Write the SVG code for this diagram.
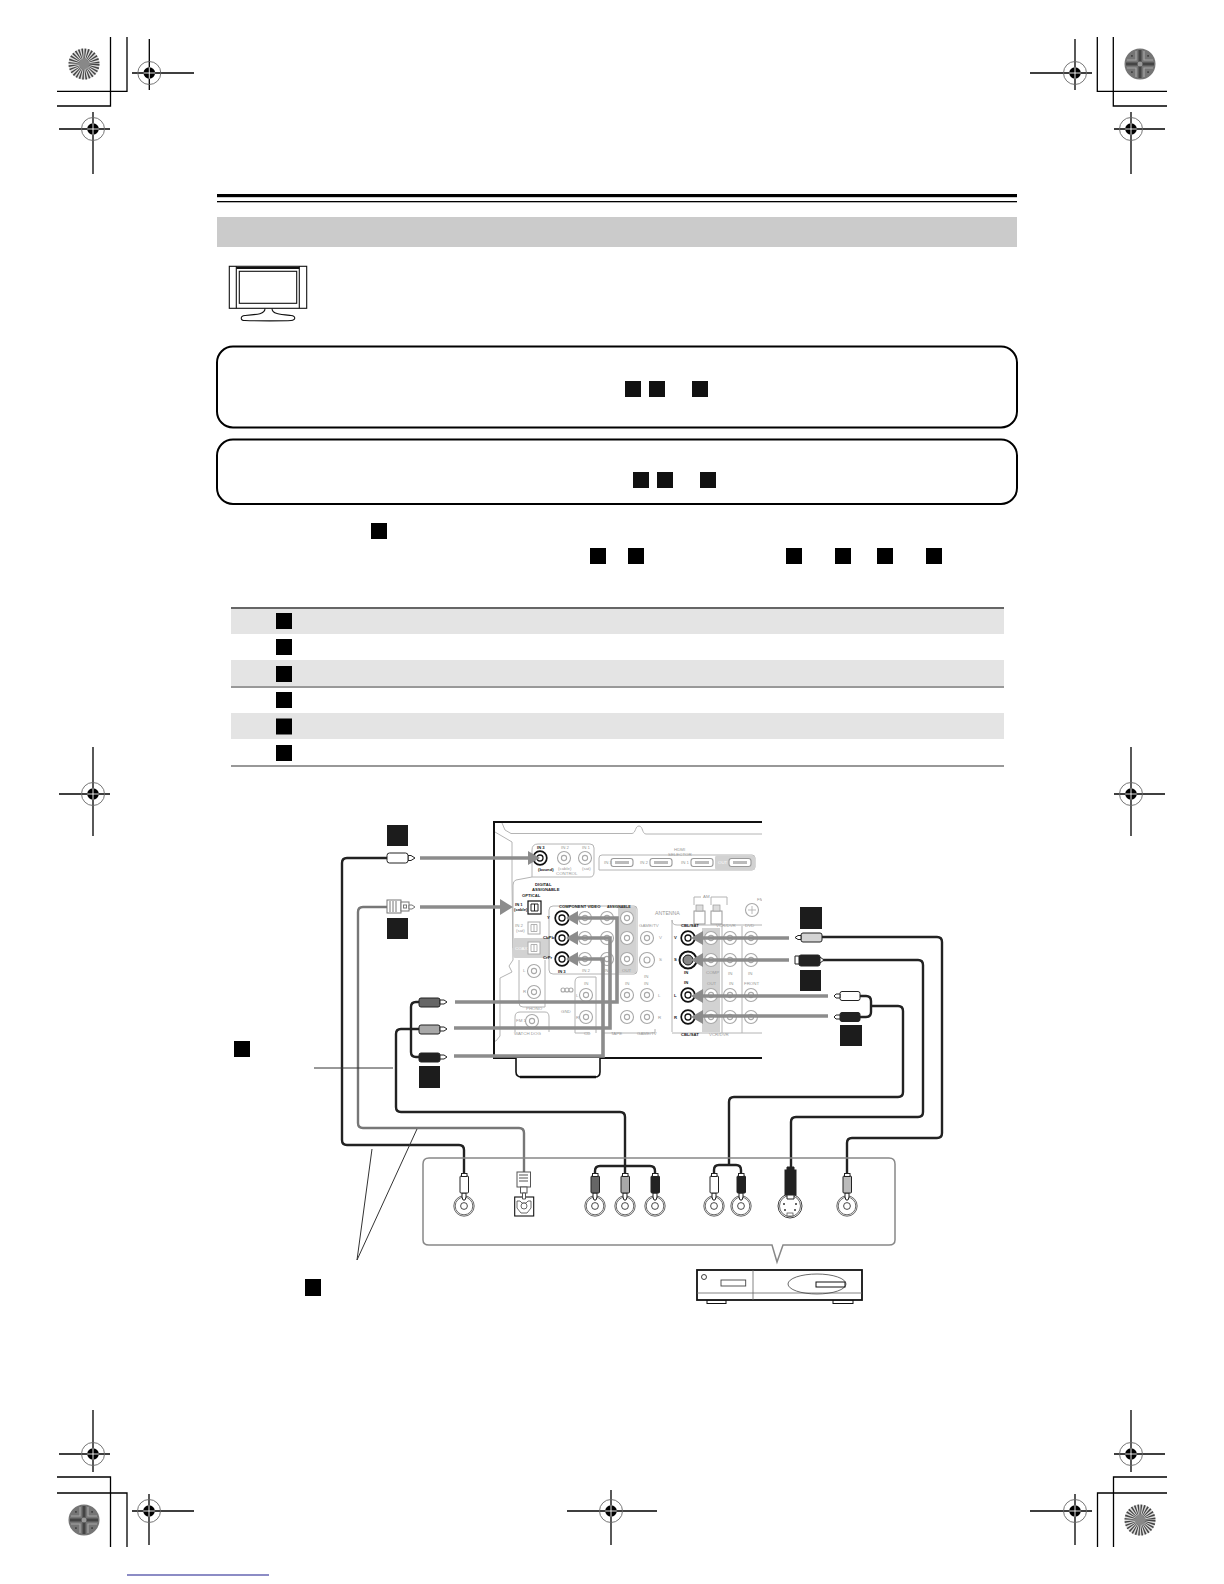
<svg xmlns="http://www.w3.org/2000/svg" xmlns:xlink="http://www.w3.org/1999/xlink" width="1224" height="1584" viewBox="0 0 1224 1584">
<style>
.k{stroke:#000;fill:none;stroke-width:1.3}
.sq{fill:#111}
.cb{fill:none;stroke:#222;stroke-width:2.4}
.cg{fill:none;stroke:#777;stroke-width:2.4}
.ga{fill:none;stroke:#8c8c8c;stroke-width:3.6}
.gh{fill:#8c8c8c}
.lt{fill:none;stroke:#b4b4b4;stroke-width:1}
.jl{fill:#fff;stroke:#a8a8a8;stroke-width:1.1}
.t{font-family:"Liberation Sans",Arial,sans-serif;font-size:4.4px;fill:#999}
.b{font-family:"Liberation Sans",Arial,sans-serif;font-size:4.2px;fill:#222;font-weight:bold}
.gf{fill:#d2d2d2}
</style>
<defs>
<g id="reg"><circle r="11.5" fill="none" stroke="#666" stroke-width="0.9"/><circle r="5.8" fill="#000"/><path d="M-5.8 0H5.8M0-5.8V5.8" stroke="#fff" stroke-width="0.9"/></g>
<g id="burst"><circle r="15.500" fill="#ddd"/><circle r="8" fill="none" stroke="#444" stroke-width="15" stroke-dasharray="0.9 0.9"/><circle r="5" fill="#888"/></g>
<g id="pat"><circle r="15.500" fill="#757575"/><path d="M-14 0H14M0-14V14" stroke="#444" stroke-width="3"/><path d="M-13-4H-4V-13M13-4H4V-13M-13 4H-4V13M13 4H4V13" stroke="#a4a4a4" stroke-width="1.200" fill="none"/><path d="M-9-8H-8V-9M9-8H8V-9M-9 8H-8V9M9 8H8V9" stroke="#444" stroke-width="1.600" fill="none"/><circle r="2.500" fill="#999"/></g>
<g id="jack"><circle r="10.200" fill="#fff" stroke="#444" stroke-width="0.8"/><circle r="8.800" fill="none" stroke="#444" stroke-width="0.8"/><circle r="3.400" fill="#fff" stroke="#333" stroke-width="0.9"/></g>
<g id="jl"><circle r="6.500" class="jl"/><circle r="2.600" class="jl"/></g>
<g id="jh"><circle r="6.800" fill="#fff" stroke="#111" stroke-width="1.700"/><circle r="3" fill="#fff" stroke="#111" stroke-width="1.300"/></g>
<g id="hd"><rect x="-11" y="-4" width="22" height="8" rx="2.500" fill="#fff" stroke="#999" stroke-width="1.100"/><rect x="-7" y="-1.500" width="14" height="3" fill="#bbb"/></g>
<g id="opt"><rect x="-6" y="-6" width="12" height="12" fill="#fff" stroke="#aaa" stroke-width="1"/><path d="M-3-3.500H3V3.500H-3ZM0-3.500V3.500" fill="none" stroke="#aaa" stroke-width="0.9"/></g>
<clipPath id="rc"><rect x="490" y="815" width="272" height="250"/></clipPath>
</defs>

<g id="registration-marks">
<path class="k" d="M110.500 37V106H57M127 37V91.300H57M1097.300 37V91.300H1167M1113.300 37V106H1167M57 1477H110.500V1547M57 1493H127V1547M1167 1477H1113.500V1547M1167 1493H1097.500V1547"/>
<path class="k" d="M132 73H194M149.300 39V90M59 129H110M93 112V174M1030 73H1092M1075 39V90M1114 129H1165M1131 112V174M59 794H110M93 747V836M1114 794H1165M1131 747V836M59 1454H110M93 1410V1472M132 1511H194M149 1494V1545M1114 1454H1165M1131 1410V1472M1030 1511H1092M1075 1494V1545M567 1511H657M611 1490V1545"/>
<use xlink:href="#reg" x="149.300" y="73"/><use xlink:href="#reg" x="93" y="129"/><use xlink:href="#reg" x="1075" y="73"/><use xlink:href="#reg" x="1131" y="129"/><use xlink:href="#reg" x="93" y="794"/><use xlink:href="#reg" x="1131" y="794"/><use xlink:href="#reg" x="93" y="1454"/><use xlink:href="#reg" x="149" y="1511"/><use xlink:href="#reg" x="1131" y="1454"/><use xlink:href="#reg" x="1075" y="1511"/><use xlink:href="#reg" x="611" y="1511"/>
<use xlink:href="#burst" x="84" y="64"/><use xlink:href="#pat" x="1140" y="64"/><use xlink:href="#pat" x="84" y="1520"/><use xlink:href="#burst" x="1140" y="1520"/>
<path d="M127 1575H269" stroke="#1a1a8c" stroke-width="1.200"/>
</g>

<g id="header">
<rect x="217" y="194" width="800" height="3.200" fill="#000"/>
<rect x="217" y="201" width="800" height="1.300" fill="#000"/>
<rect x="217" y="217" width="800" height="30" fill="#cbcbcb"/>
</g>

<g id="tv-icon" fill="none" stroke="#111" stroke-width="1.100">
<rect x="229.300" y="266.300" width="77.400" height="42"/>
<path d="M236.300 266.300V308.300M299.300 266.300V308.300"/>
<path d="M236.300 268H299.300" stroke-width="2"/>
<rect x="239.300" y="271.300" width="57.400" height="32"/>
<path d="M265 308.500C265 314 258 314.500 245 315.500C240 316 240 320.500 245 320.500C255 321 285 321 291 320.500C296 320 296 316 291 315.500C280 314.500 272 314 272 308.500"/>
</g>

<g id="note-box-1"><rect x="217" y="346.500" width="800" height="81" rx="16" fill="#fff" stroke="#000" stroke-width="2"/>
<rect class="sq" x="625" y="381" width="16" height="16"/><rect class="sq" x="649" y="381" width="16" height="16"/><rect class="sq" x="692" y="381" width="16" height="16"/></g>
<g id="note-box-2"><rect x="217" y="439.500" width="800" height="64.500" rx="16" fill="#fff" stroke="#000" stroke-width="2"/>
<rect class="sq" x="633" y="472" width="16" height="16"/><rect class="sq" x="657" y="472" width="16" height="16"/><rect class="sq" x="700" y="472" width="16" height="16"/></g>

<g id="inline-squares" fill="#000">
<rect x="371" y="523" width="16" height="16"/><rect x="590" y="548" width="16" height="16"/><rect x="628" y="548" width="16" height="16"/><rect x="786" y="548" width="16" height="16"/><rect x="835" y="548" width="16" height="16"/><rect x="877" y="548" width="16" height="16"/><rect x="926" y="548" width="16" height="16"/>
</g>

<g id="table">
<rect x="231" y="609" width="773" height="25" fill="#e4e4e4"/>
<rect x="231" y="660" width="773" height="26" fill="#e4e4e4"/>
<rect x="231" y="713" width="773" height="26" fill="#e4e4e4"/>
<path d="M231 608H1004" stroke="#666" stroke-width="1.800"/>
<path d="M231 687H1004" stroke="#333" stroke-width="1"/>
<path d="M231 766H1004" stroke="#333" stroke-width="1.200"/>
<g fill="#000"><rect x="276" y="613" width="16" height="16"/><rect x="276" y="639" width="16" height="16"/><rect x="276" y="666" width="16" height="16"/><rect x="276" y="692" width="16" height="16"/><rect x="276" y="718.500" width="16" height="16"/><rect x="276" y="745" width="16" height="16"/></g>
</g>

<g id="receiver">
<g clip-path="url(#rc)">
<path class="lt" d="M502 823L505 830L511 833.500H632C636 833 635 826 639 826C643 826 642 834 646 834H765"/>
<path class="lt" d="M495 832L512 842V881L513 960L509 966L512 972L500 978V1036L496 1041H494"/>
<path class="lt" d="M532 877V850Q532 844 538 844H590Q594 844 594 848V872Q594 877 590 877H532L516 880Q513 881 513 885V948"/>
<path class="lt" d="M599 870V858Q599 855 602 855H752Q755 855 755 858V867Q755 870 752 870Z"/>
<rect x="715" y="855.500" width="40" height="14.500" rx="2" class="gf"/>
<use xlink:href="#hd" x="622" y="862.500"/><use xlink:href="#hd" x="661" y="862.500"/><use xlink:href="#hd" x="702" y="862.500"/><use xlink:href="#hd" x="740" y="862.500"/>
<use xlink:href="#jl" x="564" y="858"/><use xlink:href="#jl" x="585" y="858"/>
<rect x="513" y="938" width="37" height="20" rx="2" class="gf"/>
<use xlink:href="#opt" x="534" y="928"/><use xlink:href="#opt" x="534" y="948"/>
<rect x="528" y="901" width="13" height="13" fill="#fff" stroke="#111" stroke-width="1.200"/><path d="M531 904H538V911H531ZM534.500 904V911" fill="none" stroke="#111" stroke-width="0.9"/>
<path class="lt" d="M519 960V1003Q519 1007 523 1007H545V960M553 906H634Q637 906 637 909V971Q637 974 634 974H553Q549 974 549 970V910Q549 906 553 906"/>
<rect x="618" y="907" width="18" height="66" class="gf"/>
<use xlink:href="#jl" x="585" y="918"/><use xlink:href="#jl" x="607" y="918"/><use xlink:href="#jl" x="627" y="918"/>
<use xlink:href="#jl" x="585" y="938"/><use xlink:href="#jl" x="607" y="938"/><use xlink:href="#jl" x="627" y="938"/>
<use xlink:href="#jl" x="585" y="959"/><use xlink:href="#jl" x="607" y="959"/><use xlink:href="#jl" x="627" y="959"/>
<use xlink:href="#jl" x="647" y="938"/>
<circle cx="647" cy="960" r="7.500" class="jl"/><circle cx="647" cy="960" r="3" class="jl"/>
<use xlink:href="#jl" x="647" y="995"/><use xlink:href="#jl" x="647" y="1017"/><use xlink:href="#jl" x="627" y="995"/><use xlink:href="#jl" x="627" y="1017"/><use xlink:href="#jl" x="586" y="995"/><use xlink:href="#jl" x="586" y="1017"/>
<use xlink:href="#jl" x="534" y="971"/><use xlink:href="#jl" x="534" y="992"/><use xlink:href="#jl" x="532" y="1021"/>
<circle cx="563" cy="990" r="2" class="jl"/><circle cx="567" cy="990" r="2" class="jl"/><circle cx="571" cy="990" r="2" class="jl"/>
<path class="lt" d="M515 1032V1017Q515 1012 520 1012H545Q549 1012 549 1017V1032"/>
<path class="lt" d="M575 1033V982Q575 977 580 977H596V1033M602 1033H655V1029M575 1033H590"/>
<path class="lt" d="M672 920Q672 925 677 925H762M672 920V1032M672 1033H762"/>
<rect x="702" y="928" width="18" height="104" class="gf"/>
<use xlink:href="#jl" x="711" y="938"/><use xlink:href="#jl" x="711" y="960"/><use xlink:href="#jl" x="711" y="995"/><use xlink:href="#jl" x="711" y="1017"/>
<use xlink:href="#jl" x="730" y="938"/><use xlink:href="#jl" x="730" y="960"/><use xlink:href="#jl" x="730" y="995"/><use xlink:href="#jl" x="730" y="1017"/>
<use xlink:href="#jl" x="751" y="938"/><use xlink:href="#jl" x="751" y="960"/><use xlink:href="#jl" x="751" y="995"/><use xlink:href="#jl" x="751" y="1017"/>
<path class="lt" d="M722 926V1033M742 926V1033"/>
<rect x="694" y="911" width="11" height="13" fill="#fff" stroke="#999"/><rect x="711" y="911" width="11" height="13" fill="#fff" stroke="#999"/>
<rect x="696" y="905" width="7" height="6" fill="#ddd" stroke="#999" stroke-width="0.7"/><rect x="713" y="905" width="7" height="6" fill="#ddd" stroke="#999" stroke-width="0.7"/>
<path class="lt" d="M694 905V897H701M711 905V897H727V905"/>
<circle cx="752" cy="910" r="6.500" class="jl"/><path d="M748 910H756M752 906V914" stroke="#aaa" stroke-width="0.8"/>
<text class="b" x="537" y="849">IN 3</text><text class="t" x="561" y="849">IN 2</text><text class="t" x="582" y="849">IN 1</text>
<text class="b" x="538" y="871">(bound)</text><text class="t" x="558" y="870">(cable)</text><text class="t" x="582" y="870">(sat)</text><text class="t" x="556" y="875">CONTROL</text>
<text class="t" x="674" y="851">HDMI</text><text class="t" x="668" y="855.500">SELECTOR</text>
<text class="t" x="604" y="864">IN 3</text><text class="t" x="640" y="864">IN 2</text><text class="t" x="681" y="864">IN 1</text><text class="t" x="718" y="864" style="fill:#fff">OUT</text>
<text class="b" x="535" y="886">DIGITAL</text><text class="b" x="532" y="890.500">ASSIGNABLE</text><text class="b" x="522" y="897">OPTICAL</text>
<text class="b" x="515" y="906">IN 1</text><text class="b" x="514" y="910.500">(cable)</text><text class="t" x="515" y="927">IN 2</text><text class="t" x="516" y="932">(sat)</text><text class="t" x="515" y="950" style="fill:#fff">COAX</text>
<text class="b" x="559" y="907.500">COMPONENT VIDEO</text><text class="b" x="607" y="907.500" style="font-size:3.600px">ASSIGNABLE</text>
<text class="b" x="547" y="919">Y</text><text class="b" x="543" y="939">CbPb</text><text class="b" x="543" y="959">CrPr</text><text class="b" x="558" y="973">IN 3</text><text class="t" x="582" y="972">IN 2</text><text class="t" x="604" y="972">IN 1</text><text class="t" x="622" y="972">OUT</text>
<text class="t" x="655" y="915" style="font-size:5.200px">ANTENNA</text><text class="t" x="703" y="898">AM</text><text class="t" x="757" y="901">FM</text>
<text class="t" x="639" y="927">GAME/TV</text><text class="t" x="659" y="939">V</text><text class="t" x="659" y="961">S</text><text class="t" x="644" y="978">IN</text><text class="t" x="658" y="997">L</text><text class="t" x="658" y="1019">R</text>
<text class="t" x="625" y="985">IN</text><text class="t" x="644" y="985">IN</text><text class="t" x="584" y="985">IN</text><text class="t" x="576" y="997">L</text><text class="t" x="576" y="1019">R</text>
<text class="t" x="523" y="972">L</text><text class="t" x="523" y="993">R</text><text class="t" x="526" y="1010">PHONO</text><text class="t" x="516" y="1022">FM 1</text><text class="t" x="514" y="1035">WATCH DOG</text><text class="t" x="561" y="1013">GND</text>
<text class="t" x="584" y="1035">CD</text><text class="t" x="611" y="1035">TAPE</text><text class="t" x="637" y="1035">GAME/TV</text>
<text class="b" x="681" y="927">CBL/SAT</text><text class="t" x="716" y="927">VCR/DVR</text><text class="t" x="745" y="927">DVD</text>
<text class="b" x="674" y="939">V</text><text class="b" x="674" y="961">S</text><text class="b" x="684" y="974">IN</text><text class="b" x="684" y="984">IN</text><text class="b" x="674" y="997">L</text><text class="b" x="674" y="1019">R</text>
<text class="t" x="706" y="974">COMP</text><text class="t" x="707" y="985">OUT</text><text class="t" x="728" y="975">IN</text><text class="t" x="729" y="985">IN</text><text class="t" x="748" y="975">IN</text><text class="t" x="744" y="985">FRONT</text>
<text class="b" x="681" y="1036">CBL/SAT</text><text class="t" x="709" y="1036">VCR/DVR</text>
</g>
<path d="M762 822H494V1058H762" fill="none" stroke="#111" stroke-width="2"/>
<path d="M516 1058V1072Q516 1077 522 1077H595Q600 1077 600 1072V1058" fill="#fff" stroke="#111" stroke-width="1.600"/>
<path d="M520 1077H596" stroke="#111" stroke-width="2.600"/>
<use xlink:href="#jh" x="540" y="858"/><use xlink:href="#jh" x="562" y="918"/><use xlink:href="#jh" x="562" y="938"/><use xlink:href="#jh" x="562" y="959"/>
<use xlink:href="#jh" x="688" y="938"/><use xlink:href="#jh" x="688" y="995"/><use xlink:href="#jh" x="688" y="1017"/>
<circle cx="688" cy="960" r="8.500" fill="#fff" stroke="#111" stroke-width="2"/><circle cx="688" cy="960" r="5" fill="#888" stroke="#111" stroke-width="1"/>
</g>

<g id="connectors">
<path class="ga" d="M420 858H530"/><path class="gh" d="M540 858L528 851V865Z"/>
<path class="ga" d="M420 907H502"/><path class="gh" d="M513 907L500 899V915Z"/>
<path class="ga" d="M455 1002H617V918H577"/><path class="gh" d="M566 918L578 911V925Z"/>
<path class="ga" d="M454 1028H610V938H577"/><path class="gh" d="M566 938L578 931V945Z"/>
<path class="ga" d="M454 1056H603V959H577"/><path class="gh" d="M566 959L578 952V966Z"/>
<path class="ga" d="M789 938H702"/><path class="gh" d="M691 938L703 931V945Z"/>
<path class="ga" d="M789 960H702"/><path class="gh" d="M691 960L703 953V967Z"/>
<path class="ga" d="M828 996H702"/><path class="gh" d="M691 996L703 989V1003Z"/>
<path class="ga" d="M828 1016H702"/><path class="gh" d="M691 1017L703 1010V1024Z"/>

<path class="cb" d="M387 858H347Q342 858 342 863V1140Q342 1145 347 1145H459Q464 1145 464 1150V1176"/>
<path class="cg" d="M387 907H363Q358 907 358 912V1123Q358 1128 363 1128H519Q524 1128 524 1133V1172"/>
<path class="cb" d="M419 1002H416Q411 1002 411 1007V1052Q411 1057 416 1057H419"/>
<path class="cb" d="M419 1029H401Q396 1029 396 1034V1107Q396 1112 401 1112H620Q625 1112 625 1117V1176"/>
<path class="cb" d="M595 1176V1171Q595 1166 600 1166H650Q655 1166 655 1171V1176"/>
<path class="cb" d="M822 937H937Q942 937 942 942V1133Q942 1138 937 1138H852Q847 1138 847 1143V1176"/>
<path class="cb" d="M823 960H918Q923 960 923 965V1112Q923 1117 918 1117H796Q791 1117 791 1122V1170"/>
<path class="cb" d="M860 996H866Q871 996 871 1001V1012Q871 1017 866 1017H860"/>
<path class="cb" d="M871 1006H898Q903 1006 903 1011V1092Q903 1097 898 1097H734Q729 1097 729 1102V1165"/>
<path class="cb" d="M714 1176V1170Q714 1165 719 1165H736Q741 1165 741 1170V1176"/>
<path d="M314 1068H393M357 1260L372 1149M357 1260L417 1129" fill="none" stroke="#333" stroke-width="1"/>
</g>

<g id="plugs-left" stroke="#222" stroke-width="1">
<path d="M408 855.500H411L415 858L411 860.500H408Z" fill="#fff"/><rect x="387" y="853" width="21" height="10" rx="2.500" fill="#fff"/>
<rect x="387" y="900" width="14" height="13" fill="#fff" stroke="#777"/><path d="M390 901V912M393 901V912M396 901V912" stroke="#777"/><rect x="401" y="902" width="8" height="9" fill="#fff" stroke="#777"/><rect x="403.500" y="905" width="3" height="3" fill="#fff" stroke="#777"/><path d="M409 905H412L415 907L412 909H409Z" fill="#fff" stroke="#777"/>
<rect x="419" y="998" width="21" height="9" rx="2" fill="#666"/><path d="M440 1000H444L447 1002L444 1004H440Z" fill="#fff"/>
<rect x="419" y="1025" width="21" height="9" rx="2" fill="#a8a8a8"/><path d="M440 1027H444L447 1029L444 1031H440Z" fill="#fff"/>
<rect x="419" y="1053" width="21" height="9" rx="2" fill="#222"/><path d="M440 1055H444L447 1057L444 1059H440Z" fill="#fff"/>
</g>
<g id="plugs-right" stroke="#222" stroke-width="1">
<rect x="801" y="933" width="21" height="9" rx="2" fill="#d4d4d4"/><path d="M801 935.500H798L795 937.500L798 939.500H801Z" fill="#fff"/>
<rect x="799" y="955" width="21" height="11" rx="2" fill="#222"/><path d="M799 956H795V964H799ZM820 957L824 960L820 963Z" fill="#fff"/>
<rect x="840" y="991.500" width="20" height="9" rx="2" fill="#fff"/><path d="M840 994H836L834 996L836 998H840Z" fill="#fff"/>
<rect x="840" y="1012.500" width="20" height="9" rx="2" fill="#222"/><path d="M840 1015H836L834 1017L836 1019H840Z" fill="#fff"/>
</g>

<g id="labels" fill="#1c1c1c">
<rect x="387" y="825" width="21" height="21"/><rect x="387" y="918" width="21" height="21"/><rect x="419" y="1066" width="21" height="22"/>
<rect x="800" y="907" width="22" height="22"/><rect x="800" y="970" width="21" height="21"/><rect x="840" y="1025" width="22" height="21"/>
<rect x="234" y="1041" width="16" height="16" fill="#000"/><rect x="305" y="1279" width="16" height="17" fill="#000"/>
</g>

<g id="source-panel">
<path d="M429 1158H889Q895 1158 895 1164V1240Q895 1245 889 1245H783L777 1262L772 1245H429Q423 1245 423 1240V1164Q423 1158 429 1158Z" fill="none" stroke="#888" stroke-width="1.500"/>
</g>

<g id="source-jacks">
<use xlink:href="#jack" x="464" y="1206"/>
<rect x="514.700" y="1197" width="19" height="19" fill="#fff" stroke="#111" stroke-width="1.100"/><path d="M517 1201H520L522 1203H526L528 1201H531V1208L527 1213H521L517 1208Z" fill="#fff" stroke="#444" stroke-width="0.8"/><circle cx="524" cy="1206" r="3" fill="#fff" stroke="#444" stroke-width="0.8"/>
<use xlink:href="#jack" x="595" y="1206"/><use xlink:href="#jack" x="625" y="1206"/><use xlink:href="#jack" x="655" y="1206"/>
<use xlink:href="#jack" x="714" y="1206"/><use xlink:href="#jack" x="741" y="1206"/>
<circle cx="790" cy="1206" r="12" fill="#fff" stroke="#444" stroke-width="1"/><circle cx="790" cy="1206" r="10.500" fill="none" stroke="#444" stroke-width="0.8"/><rect x="787" y="1213" width="6" height="3" fill="#fff" stroke="#444" stroke-width="0.7"/><circle cx="784" cy="1204" r="1" fill="#333"/><circle cx="796" cy="1204" r="1" fill="#333"/><circle cx="785" cy="1210" r="1" fill="#333"/><circle cx="795" cy="1210" r="1" fill="#333"/>
<use xlink:href="#jack" x="847" y="1206"/>
</g>
<g id="source-plugs" stroke="#222" stroke-width="1">
<path d="M462 1193H466V1197L465 1200H463L462 1197Z" fill="#fff"/><rect x="460" y="1176" width="8.500" height="17" rx="1" fill="#fff"/><rect x="461.500" y="1173.500" width="5.500" height="3" fill="#fff"/>
<path d="M593 1193H597V1197L596 1200H594L593 1197Z" fill="#fff"/><rect x="591" y="1176" width="8.500" height="17" rx="1" fill="#666"/><rect x="592.500" y="1173.500" width="5.500" height="3" fill="#fff"/>
<path d="M623 1193H627V1197L626 1200H624L623 1197Z" fill="#fff"/><rect x="621" y="1176" width="8.500" height="17" rx="1" fill="#a8a8a8"/><rect x="622.500" y="1173.500" width="5.500" height="3" fill="#fff"/>
<path d="M653 1193H657V1197L656 1200H654L653 1197Z" fill="#fff"/><rect x="651" y="1176" width="8.500" height="17" rx="1" fill="#222"/><rect x="652.500" y="1173.500" width="5.500" height="3" fill="#fff"/>
<path d="M712 1193H716V1197L715 1200H713L712 1197Z" fill="#fff"/><rect x="710" y="1176" width="8.500" height="17" rx="1" fill="#fff"/><rect x="711.500" y="1173.500" width="5.500" height="3" fill="#fff"/>
<path d="M739 1193H743V1197L742 1200H740L739 1197Z" fill="#fff"/><rect x="737" y="1176" width="8.500" height="17" rx="1" fill="#222"/><rect x="738.500" y="1173.500" width="5.500" height="3" fill="#fff"/>
<path d="M845 1193H849V1197L848 1200H846L845 1197Z" fill="#fff"/><rect x="843" y="1176" width="8.500" height="17" rx="1" fill="#bbb"/><rect x="844.500" y="1173.500" width="5.500" height="3" fill="#fff"/>
<rect x="785" y="1170" width="11" height="25" fill="#222"/><path d="M787 1167H794V1170H787Z" fill="#222"/><path d="M787 1195H794V1199H787Z" fill="#fff"/>
<rect x="517" y="1172" width="13.500" height="15" fill="#fff" stroke="#555"/><path d="M519 1175H528M519 1178H528M519 1181H528" stroke="#555"/><rect x="520.500" y="1187" width="6.500" height="6" fill="#fff" stroke="#555"/><path d="M522.500 1193H525.500V1199H522.500Z" fill="#fff" stroke="#555"/>
</g>

<g id="source-device" fill="none" stroke="#111">
<rect x="707" y="1300" width="19" height="3.500" stroke-width="1"/><rect x="833" y="1300" width="20" height="3.500" stroke-width="1"/>
<rect x="697" y="1270" width="165" height="30" fill="#fff" stroke-width="1.800"/>
<path d="M697 1293H862M753 1270V1300" stroke="#666" stroke-width="0.800"/>
<circle cx="704" cy="1277" r="2.500" stroke-width="0.800"/>
<rect x="721" y="1280" width="24.700" height="6" stroke-width="0.900" stroke="#444"/>
<ellipse cx="817" cy="1284" rx="29" ry="10" stroke-width="0.800" stroke="#444"/>
<rect x="816" y="1282" width="29" height="5" stroke-width="1"/>
</g>
</svg>
